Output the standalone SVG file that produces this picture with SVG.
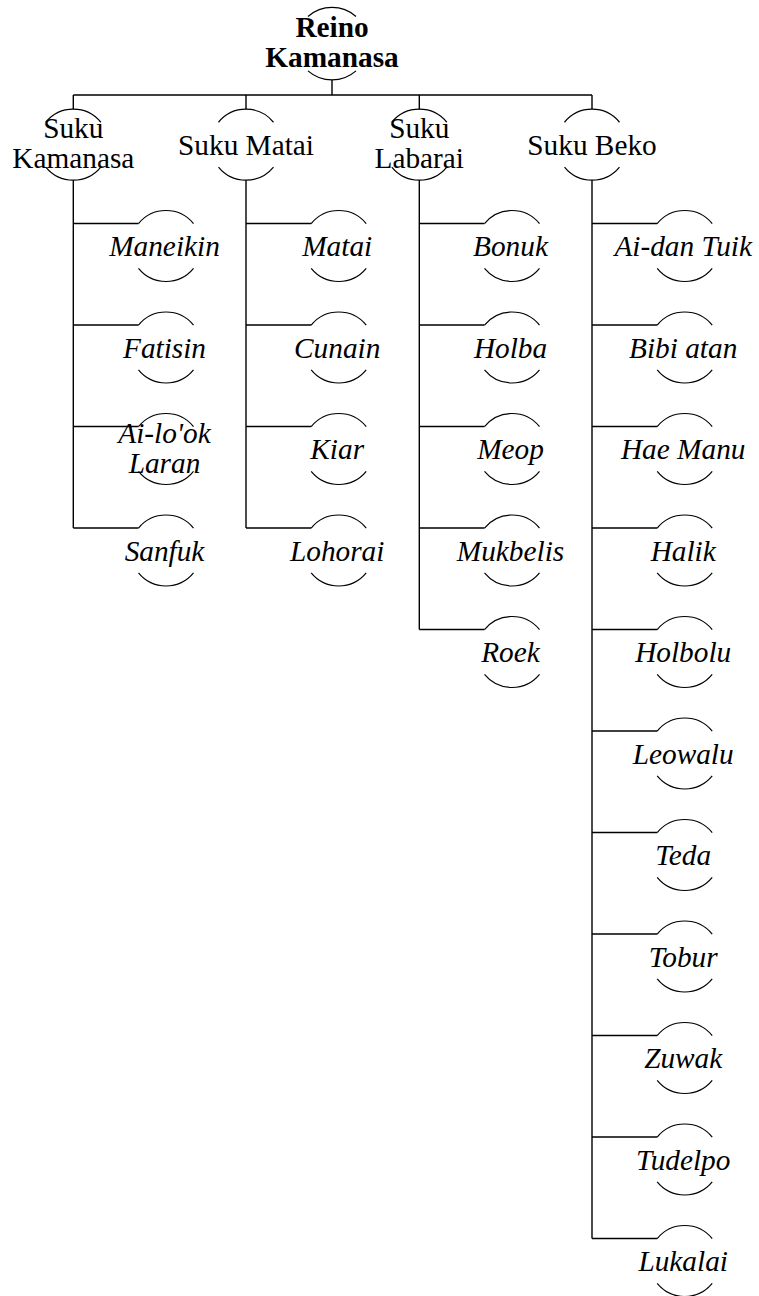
<svg xmlns="http://www.w3.org/2000/svg" xmlns:xlink="http://www.w3.org/1999/xlink" width="759" height="1296" viewBox="0 0 759 1296">
<style>
.ln{fill:none;stroke:#000;stroke-width:1.4}
.arc{fill:none;stroke:#000;stroke-width:1.2}
text{font-family:"Liberation Serif","Times New Roman",serif;font-size:29.3px;fill:#000;text-anchor:middle}
.root{font-weight:bold}
.leaf{font-style:italic}
</style>
<defs>
<path id="arcs" d="M-27.5,-22.45 A35.5,35.5 0 0 1 27.5,-22.45 M-27.5,22.45 A35.5,35.5 0 0 0 27.5,22.45"/>
</defs>
<rect width="759" height="1296" fill="#fff"/>
<g id="connectors" class="ln">
<path d="M332,80 V95 M73.3,95 H592 M73.3,95 V109.2 M246,95 V109.2 M419.3,95 V109.2 M592,95 V109.2"/>
<path d="M73.3,180.2 V528.05 M73.3,223.55 H138.5 M73.3,325.05 H138.5 M73.3,426.55 H138.5 M73.3,528.05 H138.5"/>
<path d="M246,180.2 V528.05 M246,223.55 H311.2 M246,325.05 H311.2 M246,426.55 H311.2 M246,528.05 H311.2"/>
<path d="M419.3,180.2 V629.55 M419.3,223.55 H484.5 M419.3,325.05 H484.5 M419.3,426.55 H484.5 M419.3,528.05 H484.5 M419.3,629.55 H484.5"/>
<path d="M592,180.2 V1238.55 M592,223.55 H657.2 M592,325.05 H657.2 M592,426.55 H657.2 M592,528.05 H657.2 M592,629.55 H657.2 M592,731.05 H657.2 M592,832.55 H657.2 M592,934.05 H657.2 M592,1035.55 H657.2 M592,1137.05 H657.2 M592,1238.55 H657.2"/>
</g>
<g id="root">
<path class="arc" d="M308,16.5 A36.3,36.3 0 0 1 356,16.5 M308,70.9 A36.3,36.3 0 0 0 356,70.9"/>
<text class="root" x="332" y="37.2">Reino</text>
<text class="root" x="332" y="67.2">Kamanasa</text>
</g>
<g id="suku-kamanasa">
<use href="#arcs" x="73.3" y="144.7" class="arc"/>
<text x="73.3" y="138.2">Suku</text>
<text x="73.3" y="168.2">Kamanasa</text>
</g>
<g id="suku-matai">
<use href="#arcs" x="246" y="144.7" class="arc"/>
<text x="246" y="154.7">Suku Matai</text>
</g>
<g id="suku-labarai">
<use href="#arcs" x="419.3" y="144.7" class="arc"/>
<text x="419.3" y="138.2">Suku</text>
<text x="419.3" y="168.2">Labarai</text>
</g>
<g id="suku-beko">
<use href="#arcs" x="592" y="144.7" class="arc"/>
<text x="592" y="154.7">Suku Beko</text>
</g>
<g id="maneikin"><use href="#arcs" x="166" y="246" class="arc"/><text class="leaf" x="164.5" y="256">Maneikin</text></g>
<g id="fatisin"><use href="#arcs" x="166" y="347.5" class="arc"/><text class="leaf" x="164.5" y="357.5">Fatisin</text></g>
<g id="ai-lolok-laran"><use href="#arcs" x="166" y="449" class="arc"/><text class="leaf" x="164.5" y="442.5">Ai-lo'ok</text><text class="leaf" x="164.5" y="472.5">Laran</text></g>
<g id="sanfuk"><use href="#arcs" x="166" y="550.5" class="arc"/><text class="leaf" x="164.5" y="560.5">Sanfuk</text></g>
<g id="matai"><use href="#arcs" x="338.7" y="246" class="arc"/><text class="leaf" x="337.2" y="256">Matai</text></g>
<g id="cunain"><use href="#arcs" x="338.7" y="347.5" class="arc"/><text class="leaf" x="337.2" y="357.5">Cunain</text></g>
<g id="kiar"><use href="#arcs" x="338.7" y="449" class="arc"/><text class="leaf" x="337.2" y="459">Kiar</text></g>
<g id="lohorai"><use href="#arcs" x="338.7" y="550.5" class="arc"/><text class="leaf" x="337.2" y="560.5">Lohorai</text></g>
<g id="bonuk"><use href="#arcs" x="512" y="246" class="arc"/><text class="leaf" x="510.5" y="256">Bonuk</text></g>
<g id="holba"><use href="#arcs" x="512" y="347.5" class="arc"/><text class="leaf" x="510.5" y="357.5">Holba</text></g>
<g id="meop"><use href="#arcs" x="512" y="449" class="arc"/><text class="leaf" x="510.5" y="459">Meop</text></g>
<g id="mukbelis"><use href="#arcs" x="512" y="550.5" class="arc"/><text class="leaf" x="510.5" y="560.5">Mukbelis</text></g>
<g id="roek"><use href="#arcs" x="512" y="652" class="arc"/><text class="leaf" x="510.5" y="662">Roek</text></g>
<g id="ai-dan-tuik"><use href="#arcs" x="684.7" y="246" class="arc"/><text class="leaf" x="683.2" y="256">Ai-dan Tuik</text></g>
<g id="bibi-atan"><use href="#arcs" x="684.7" y="347.5" class="arc"/><text class="leaf" x="683.2" y="357.5">Bibi atan</text></g>
<g id="hae-manu"><use href="#arcs" x="684.7" y="449" class="arc"/><text class="leaf" x="683.2" y="459">Hae Manu</text></g>
<g id="halik"><use href="#arcs" x="684.7" y="550.5" class="arc"/><text class="leaf" x="683.2" y="560.5">Halik</text></g>
<g id="holbolu"><use href="#arcs" x="684.7" y="652" class="arc"/><text class="leaf" x="683.2" y="662">Holbolu</text></g>
<g id="leowalu"><use href="#arcs" x="684.7" y="753.5" class="arc"/><text class="leaf" x="683.2" y="763.5">Leowalu</text></g>
<g id="teda"><use href="#arcs" x="684.7" y="855" class="arc"/><text class="leaf" x="683.2" y="865">Teda</text></g>
<g id="tobur"><use href="#arcs" x="684.7" y="956.5" class="arc"/><text class="leaf" x="683.2" y="966.5">Tobur</text></g>
<g id="zuwak"><use href="#arcs" x="684.7" y="1058" class="arc"/><text class="leaf" x="683.2" y="1068">Zuwak</text></g>
<g id="tudelpo"><use href="#arcs" x="684.7" y="1159.5" class="arc"/><text class="leaf" x="683.2" y="1169.5">Tudelpo</text></g>
<g id="lukalai"><use href="#arcs" x="684.7" y="1261" class="arc"/><text class="leaf" x="683.2" y="1271">Lukalai</text></g>
</svg>
